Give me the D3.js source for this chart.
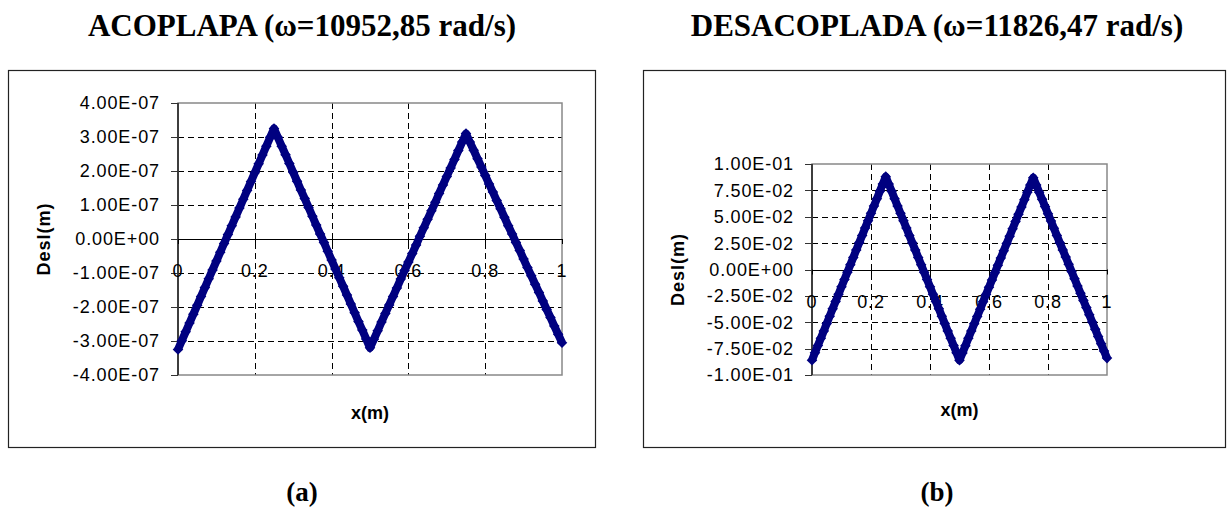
<!DOCTYPE html>
<html>
<head>
<meta charset="utf-8">
<script src="https://cdn.jsdelivr.net/npm/d3@7"></script>
<style>
  body { margin: 0; background: #fff; }
  text { font-family: "Liberation Sans", Arial, sans-serif; fill: #000; }
  .title, .sub { font-family: "Liberation Serif", "Times New Roman", serif; font-weight: bold; }
</style>
</head>
<body>
<svg id="chart" width="1229" height="511"></svg>
<script>
// x positions along the beam (m)
const xPos = [0,0.01,0.02,0.03,0.04,0.05,0.06,0.07,0.08,0.09,0.1,0.11,0.12,0.13,0.14,0.15,0.16,0.17,0.18,0.19,
  0.2,0.21,0.22,0.23,0.24,0.25,0.26,0.27,0.28,0.29,0.3,0.31,0.32,0.33,0.34,0.35,0.36,0.37,0.38,0.39,
  0.4,0.41,0.42,0.43,0.44,0.45,0.46,0.47,0.48,0.49,0.5,0.51,0.52,0.53,0.54,0.55,0.56,0.57,0.58,0.59,
  0.6,0.61,0.62,0.63,0.64,0.65,0.66,0.67,0.68,0.69,0.7,0.71,0.72,0.73,0.74,0.75,0.76,0.77,0.78,0.79,
  0.8,0.81,0.82,0.83,0.84,0.85,0.86,0.87,0.88,0.89,0.9,0.91,0.92,0.93,0.94,0.95,0.96,0.97,0.98,0.99,1];

// displacement, coupled case (x 1e-7 m)
const unitA = 1e-7;
const deslAcoplada = [-3.25,-2.99,-2.73,-2.47,-2.21,-1.95,-1.69,-1.43,-1.17,-0.91,-0.65,-0.39,-0.13,0.13,0.39,0.65,0.91,1.17,1.43,1.69,1.95,2.21,2.47,2.73,2.99,3.25,
  2.99,2.73,2.48,2.22,1.96,1.70,1.44,1.19,0.93,0.67,0.41,0.15,-0.10,-0.36,-0.62,-0.88,-1.14,-1.39,-1.65,-1.91,-2.17,-2.43,-2.68,-2.94,-3.20,
  -2.95,-2.70,-2.44,-2.19,-1.94,-1.69,-1.44,-1.18,-0.93,-0.68,-0.43,-0.18,0.08,0.33,0.58,0.83,1.08,1.34,1.59,1.84,2.09,2.34,2.60,2.85,3.10,
  2.85,2.61,2.36,2.12,1.87,1.62,1.38,1.13,0.89,0.64,0.39,0.15,-0.10,-0.34,-0.59,-0.84,-1.08,-1.33,-1.57,-1.82,-2.07,-2.31,-2.56,-2.80,-3.05];

// displacement, uncoupled case (x 1e-2 m)
const unitB = 1e-2;
const deslDesacoplada = [-8.60,-7.90,-7.21,-6.51,-5.82,-5.12,-4.42,-3.73,-3.03,-2.34,-1.64,-0.94,-0.25,0.45,1.14,1.84,2.54,3.23,3.93,4.62,5.32,6.02,6.71,7.41,8.10,8.80,
  8.10,7.41,6.71,6.02,5.32,4.62,3.93,3.23,2.54,1.84,1.14,0.45,-0.25,-0.94,-1.64,-2.34,-3.03,-3.73,-4.42,-5.12,-5.82,-6.51,-7.21,-7.90,-8.60,
  -7.91,-7.22,-6.52,-5.83,-5.14,-4.45,-3.76,-3.06,-2.37,-1.68,-0.99,-0.30,0.40,1.09,1.78,2.47,3.16,3.86,4.55,5.24,5.93,6.62,7.32,8.01,8.70,
  8.02,7.33,6.65,5.96,5.28,4.60,3.91,3.23,2.54,1.86,1.18,0.49,-0.19,-0.88,-1.56,-2.24,-2.93,-3.61,-4.30,-4.98,-5.66,-6.35,-7.03,-7.72,-8.40];

const xTicks = [0, 0.2, 0.4, 0.6, 0.8, 1];
const yTicksA = [-4e-7, -3e-7, -2e-7, -1e-7, 0, 1e-7, 2e-7, 3e-7, 4e-7];
const yTicksB = [-0.1, -0.075, -0.05, -0.025, 0, 0.025, 0.05, 0.075, 0.1];
const titles = ["ACOPLAPA (ω=10952,85 rad/s)", "DESACOPLADA (ω=11826,47 rad/s)"];
const subLabels = ["(a)", "(b)"];

// Excel style scientific label, e.g. 4.00E-07
function fmtE(v) {
  const parts = v.toExponential(2).split("e");
  const n = +parts[1];
  return parts[0] + "E" + (n < 0 ? "-" : "+") + String(Math.abs(n)).padStart(2, "0");
}

const svg = d3.select("#chart");
svg.append("rect").attr("width", 1229).attr("height", 511).attr("fill", "#fff");

class modeChart {

  constructor(_config, _values, _unit, _yTicks, _title, _sub) {
    this.config = _config;
    this.data = xPos.map((x, i) => ({ x: x, y: _values[i] * _unit }));
    this.yTicks = _yTicks;
    this.title = _title;
    this.sub = _sub;
    this.initVis();
  }

  initVis() {
    const vis = this;
    const c = vis.config;
    const g = svg.append("g");

    // title and sub label
    g.append("text").attr("class", "title")
      .attr("x", c.centerX).attr("y", 36)
      .attr("text-anchor", "middle").style("font-size", "31px")
      .text(vis.title);
    g.append("text").attr("class", "sub")
      .attr("x", c.centerX).attr("y", 501)
      .attr("text-anchor", "middle").style("font-size", "27px")
      .text(vis.sub);

    // chart frame
    g.append("rect")
      .attr("x", c.frame[0] + 0.5).attr("y", c.frame[1] + 0.5)
      .attr("width", c.frame[2]).attr("height", c.frame[3])
      .attr("fill", "none").attr("stroke", "#222").attr("stroke-width", 1.2);

    vis.x = d3.scaleLinear().domain([0, 1]).range([c.left, c.right]);
    vis.y = d3.scaleLinear().domain(d3.extent(vis.yTicks)).range([c.bottom, c.top]);
    const y0 = vis.y(0);

    // dashed grid
    g.selectAll("line.hgrid")
      .data(vis.yTicks.filter(d => d !== 0 && d !== vis.yTicks[0] && d !== vis.yTicks[vis.yTicks.length - 1]))
      .join("line").attr("class", "hgrid")
      .attr("x1", c.left).attr("x2", c.right)
      .attr("y1", d => Math.round(vis.y(d)) + 0.5).attr("y2", d => Math.round(vis.y(d)) + 0.5)
      .attr("stroke", "#000").attr("stroke-dasharray", "6,4");
    g.selectAll("line.vgrid")
      .data(xTicks.slice(1, -1))
      .join("line").attr("class", "vgrid")
      .attr("x1", d => Math.round(vis.x(d)) + 0.5).attr("x2", d => Math.round(vis.x(d)) + 0.5)
      .attr("y1", c.top).attr("y2", c.bottom)
      .attr("stroke", "#000").attr("stroke-dasharray", "6,4");

    // plot area border
    g.append("rect")
      .attr("x", c.left).attr("y", c.top)
      .attr("width", c.right - c.left).attr("height", c.bottom - c.top)
      .attr("fill", "none").attr("stroke", "#888").attr("stroke-width", 1.5);

    // y axis
    g.append("line")
      .attr("x1", c.left).attr("x2", c.left).attr("y1", c.top).attr("y2", c.bottom)
      .attr("stroke", "#333").attr("stroke-width", 1.8);
    g.selectAll("line.ytick").data(vis.yTicks).join("line").attr("class", "ytick")
      .attr("x1", c.left - 7).attr("x2", c.left)
      .attr("y1", d => Math.round(vis.y(d)) + 0.5).attr("y2", d => Math.round(vis.y(d)) + 0.5)
      .attr("stroke", "#333");
    g.selectAll("text.ylab").data(vis.yTicks).join("text").attr("class", "ylab")
      .attr("x", c.left - 18).attr("y", d => vis.y(d)).attr("dy", "0.36em")
      .attr("text-anchor", "end").style("font-size", "18px").style("letter-spacing", "0.9px")
      .text(d => fmtE(d));

    // x axis through zero
    g.append("line")
      .attr("x1", c.left).attr("x2", c.right).attr("y1", Math.round(y0) + 0.5).attr("y2", Math.round(y0) + 0.5)
      .attr("stroke", "#000");
    g.selectAll("line.xtick").data(xTicks).join("line").attr("class", "xtick")
      .attr("x1", d => Math.round(vis.x(d)) + 0.5).attr("x2", d => Math.round(vis.x(d)) + 0.5)
      .attr("y1", y0).attr("y2", y0 + 5)
      .attr("stroke", "#000");
    g.selectAll("text.xlab").data(xTicks).join("text").attr("class", "xlab")
      .attr("x", d => vis.x(d)).attr("y", y0 + 38)
      .attr("text-anchor", "middle").style("font-size", "18px").style("letter-spacing", "0.9px")
      .text(d => String(d));

    // axis titles
    g.append("text")
      .attr("transform", `translate(${c.yTitleX},${(c.top + c.bottom) / 2}) rotate(-90)`)
      .attr("text-anchor", "middle").attr("dy", "0.35em")
      .style("font-size", "18px").style("font-weight", "bold").style("letter-spacing", "1px")
      .text("Desl(m)");
    g.append("text")
      .attr("x", (c.left + c.right) / 2).attr("y", c.xTitleY)
      .attr("text-anchor", "middle")
      .style("font-size", "18px").style("font-weight", "bold")
      .text("x(m)");

    vis.g = g;
    vis.updateVis();
  }

  updateVis() {
    const vis = this;

    // thick series line under the markers
    const line = d3.line().x(d => vis.x(d.x)).y(d => vis.y(d.y));
    vis.g.append("path").datum(vis.data)
      .attr("d", line)
      .attr("fill", "none").attr("stroke", "#000080").attr("stroke-width", 8)
      .attr("stroke-linejoin", "round");

    // diamond markers
    const diamond = d3.symbol().type(d3.symbolSquare).size(56);
    vis.g.selectAll("path.mark").data(vis.data).join("path").attr("class", "mark")
      .attr("d", diamond)
      .attr("transform", d => `translate(${vis.x(d.x)},${vis.y(d.y)}) rotate(45)`)
      .attr("fill", "#000080");
  }
}

new modeChart({ frame: [8, 70, 587, 377], left: 178, right: 562, top: 103, bottom: 375,
  centerX: 302, yTitleX: 44, xTitleY: 419 }, deslAcoplada, unitA, yTicksA, titles[0], subLabels[0]);
new modeChart({ frame: [643, 70, 582, 377], left: 812, right: 1107, top: 164, bottom: 375,
  centerX: 937, yTitleX: 678, xTitleY: 416 }, deslDesacoplada, unitB, yTicksB, titles[1], subLabels[1]);
</script>
</body>
</html>
